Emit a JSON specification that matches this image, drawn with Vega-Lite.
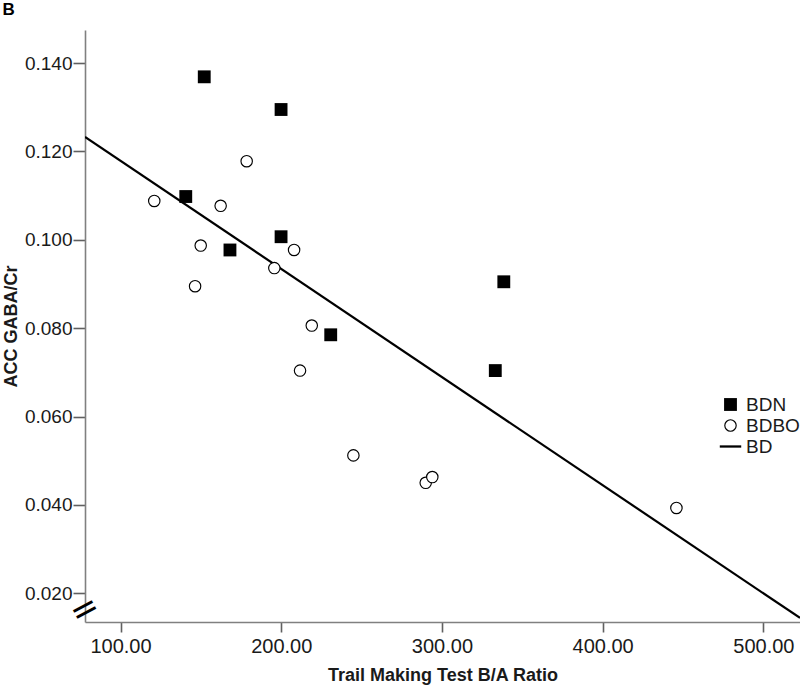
{
  "$schema": "https://vega.github.io/schema/vega-lite/v6.json",
  "width": 715,
  "height": 592,
  "autosize": {"type": "none"},
  "padding": {"left": 85, "top": 30, "right": 0, "bottom": 64},
  "background": "white",
  "config": {
    "view": {"stroke": null},
    "font": "Liberation Sans",
    "axis": {
      "grid": false,
      "domainColor": "#808080",
      "domainWidth": 1.6,
      "tickColor": "#606060",
      "tickWidth": 1.6,
      "labelColor": "#1a1a1a",
      "labelFont": "Liberation Sans",
      "labelFontSize": 19,
      "titleFont": "Liberation Sans",
      "titleFontSize": 18,
      "titleFontWeight": "bold",
      "titleColor": "#1a1a1a"
    }
  },
  "title": {
    "text": "B",
    "anchor": "start",
    "frame": "bounds",
    "fontSize": 17,
    "fontWeight": "bold",
    "color": "black",
    "font": "Liberation Sans",
    "offset": 11
  },
  "datasets": {
    "pts": [
      {"ratio": 152.1, "gaba": 0.1369, "group": "BDN"},
      {"ratio": 199.9, "gaba": 0.1295, "group": "BDN"},
      {"ratio": 140.6, "gaba": 0.1098, "group": "BDN"},
      {"ratio": 168.1, "gaba": 0.0977, "group": "BDN"},
      {"ratio": 199.9, "gaba": 0.1007, "group": "BDN"},
      {"ratio": 230.8, "gaba": 0.0785, "group": "BDN"},
      {"ratio": 338.5, "gaba": 0.0905, "group": "BDN"},
      {"ratio": 333.2, "gaba": 0.0704, "group": "BDN"},
      {"ratio": 121.0, "gaba": 0.1088, "group": "BDBO"},
      {"ratio": 162.3, "gaba": 0.1077, "group": "BDBO"},
      {"ratio": 178.5, "gaba": 0.1178, "group": "BDBO"},
      {"ratio": 149.9, "gaba": 0.0987, "group": "BDBO"},
      {"ratio": 146.4, "gaba": 0.0895, "group": "BDBO"},
      {"ratio": 208.0, "gaba": 0.0977, "group": "BDBO"},
      {"ratio": 195.7, "gaba": 0.0936, "group": "BDBO"},
      {"ratio": 219.0, "gaba": 0.0806, "group": "BDBO"},
      {"ratio": 211.7, "gaba": 0.0704, "group": "BDBO"},
      {"ratio": 244.9, "gaba": 0.0512, "group": "BDBO"},
      {"ratio": 289.9, "gaba": 0.0450, "group": "BDBO"},
      {"ratio": 294.0, "gaba": 0.0463, "group": "BDBO"},
      {"ratio": 445.9, "gaba": 0.0393, "group": "BDBO"}
    ],
    "fit": [
      {"ratio": 77.9, "gaba": 0.1233, "group": "BD"},
      {"ratio": 522.8, "gaba": 0.0144, "group": "BD"}
    ]
  },
  "layer": [
    {
      "data": {"name": "fit"},
      "mark": {"type": "line", "color": "black", "strokeWidth": 2.2, "clip": true},
      "encoding": {
        "x": {
          "field": "ratio",
          "type": "quantitative",
          "scale": {"domain": [77.9, 522.8], "nice": false, "zero": false},
          "axis": {
            "title": "Trail Making Test B/A Ratio",
            "values": [100, 200, 300, 400, 500],
            "format": ".2f",
            "tickSize": 10,
            "labelPadding": 4,
            "labelFontSize": 20,
            "titlePadding": 10
          }
        },
        "y": {
          "field": "gaba",
          "type": "quantitative",
          "scale": {"domain": [0.01348, 0.1475], "nice": false, "zero": false},
          "axis": {
            "title": "ACC GABA/Cr",
            "values": [0.02, 0.04, 0.06, 0.08, 0.1, 0.12, 0.14],
            "format": ".3f",
            "tickSize": 12,
            "labelPadding": 1,
            "titlePadding": 4
          }
        }
      }
    },
    {
      "data": {"name": "pts"},
      "mark": {"type": "point", "stroke": "black", "opacity": 1},
      "encoding": {
        "x": {"field": "ratio", "type": "quantitative"},
        "y": {"field": "gaba", "type": "quantitative"},
        "shape": {
          "field": "group",
          "type": "nominal",
          "scale": {"domain": ["BDN", "BDBO", "BD"], "range": ["square", "circle", "M-2.2,0H2.2"]},
          "legend": {
            "title": null,
            "orient": "none",
            "legendX": 636,
            "legendY": 365,
            "labelFontSize": 19,
            "labelColor": "#1a1a1a",
            "labelFont": "Liberation Sans",
            "labelOffset": 6,
            "rowPadding": 1,
            "padding": 0,
            "encode": {
              "symbols": {
                "update": {
                  "strokeWidth": {"signal": "datum.value === 'BDN' ? 0 : 2.3"},
                  "stroke": {"value": "black"}
                }
              }
            }
          }
        },
        "fill": {
          "field": "group",
          "type": "nominal",
          "scale": {"domain": ["BDN", "BDBO", "BD"], "range": ["black", "white", "black"]}
        },
        "size": {
          "field": "group",
          "type": "nominal",
          "scale": {"domain": ["BDN", "BDBO", "BD"], "range": [165, 95, 70]}
        },
        "strokeWidth": {
          "field": "group",
          "type": "nominal",
          "scale": {"domain": ["BDN", "BDBO", "BD"], "range": [0, 2.3, 2.2]}
        }
      }
    },
    {
      "data": {"values": [{}]},
      "mark": {"type": "text", "text": "=", "fontSize": 34, "angle": 332, "color": "black", "font": "DejaVu Sans"},
      "encoding": {
        "x": {"datum": 77.9, "type": "quantitative"},
        "y": {"datum": 0.0162, "type": "quantitative"}
      }
    }
  ]
}
